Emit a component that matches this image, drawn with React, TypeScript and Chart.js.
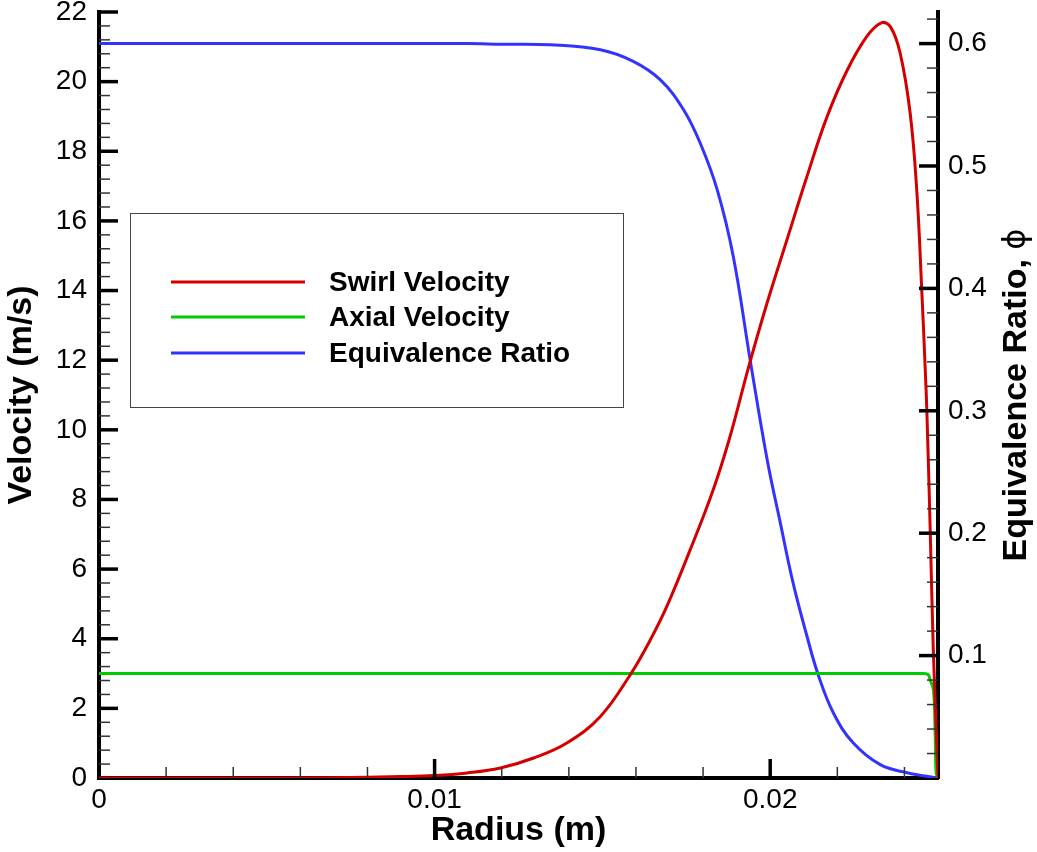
import React, { useEffect, useRef } from 'react';
import { Chart, registerables } from 'chart.js';

Chart.register(...registerables);

// ---- Data ----
const swirlR = [0, 0.004, 0.007, 0.009, 0.01, 0.01097, 0.01196, 0.01295, 0.01394, 0.01494, 0.01583, 0.01643, 0.01692, 0.01762, 0.01831, 0.01881, 0.01935, 0.0199, 0.0205, 0.02109, 0.02169, 0.02229, 0.02288, 0.02331, 0.02358, 0.02387, 0.02417, 0.02437, 0.02452, 0.02462, 0.02467, 0.02477, 0.02486, 0.025];
const swirlV = [0, 0, 0.01, 0.04, 0.07, 0.144, 0.287, 0.574, 1.005, 1.769, 2.967, 3.972, 4.928, 6.565, 8.3, 9.83, 11.78, 13.62, 15.46, 17.26, 18.98, 20.32, 21.3, 21.69, 21.58, 20.83, 19.1, 16.84, 13.93, 11.73, 10.48, 7.04, 3.68, 0];

const axialR = [0, 0.005, 0.01, 0.015, 0.02, 0.0245, 0.0247, 0.024766, 0.024864, 0.024915, 0.024945, 0.025];
const axialV = [3.0, 3.0, 3.0, 3.0, 3.0, 3.0, 2.97, 2.82, 2.53, 1.29, 0.14, 0];

const phiR = [0, 0.004, 0.008, 0.011, 0.012, 0.01345, 0.01494, 0.01592, 0.01672, 0.01741, 0.01791, 0.01842, 0.0189, 0.0194, 0.01991, 0.0203, 0.02068, 0.0211, 0.02143, 0.02188, 0.02247, 0.02328, 0.02408, 0.025];
const phiV = [0.6, 0.6, 0.6, 0.6, 0.5995, 0.599, 0.595, 0.5855, 0.5705, 0.5464, 0.519, 0.4807, 0.4261, 0.342, 0.26, 0.2086, 0.1596, 0.1154, 0.0844, 0.0533, 0.0288, 0.0109, 0.0043, 0];

const seriesLabels = ['Swirl Velocity', 'Axial Velocity', 'Equivalence Ratio'];
const seriesColors = ['rgb(210,0,0)', 'rgb(0,204,0)', 'rgb(51,51,255)'];

const xTickLabels: Record<string, string> = { '0': '0', '0.01': '0.01', '0.02': '0.02' };
const xMin = 0, xMax = 0.025, xStep = 0.01;
const yMin = 0, yMax = 22, yStep = 2;
const y1Min = 0, y1Max = 0.6258, y1Step = 0.1;
const xTitle = 'Radius (m)';
const yTitle = 'Velocity (m/s)';
const y1Title = 'Equivalence Ratio, ';
const y1Symbol = 'ϕ';

const FONT = '"Liberation Sans", Arial, Helvetica, sans-serif';

const zip = (xs: number[], ys: number[]) => xs.map((x, i) => ({ x, y: ys[i] }));

const decorPlugin = {
  id: 'decor',
  afterDraw(chart: any) {
    const ctx: CanvasRenderingContext2D = chart.ctx;
    const { left, right, top, bottom } = chart.chartArea;
    const sx = chart.scales.x, sy = chart.scales.y, sy1 = chart.scales.y1;
    const MAJ = 19, MIN = 11;
    ctx.save();
    const line = (x1: number, y1: number, x2: number, y2: number, w: number, c: string) => {
      ctx.beginPath();
      ctx.lineWidth = w;
      ctx.strokeStyle = c;
      ctx.moveTo(x1, y1);
      ctx.lineTo(x2, y2);
      ctx.stroke();
    };
    // x ticks (inward)
    for (let i = 1; i <= 12; i++) {
      const px = sx.getPixelForValue(i * 0.002);
      const major = i % 5 === 0;
      line(px, bottom, px, bottom - (major ? MAJ : MIN), major ? 3.5 : 1.5, major ? '#000' : '#333');
    }
    // left ticks
    for (let i = 1; i <= 55; i++) {
      const py = sy.getPixelForValue(i * 0.4);
      const major = i % 5 === 0;
      line(left, py, left + (major ? MAJ : MIN), py, major ? 3.5 : 1.5, major ? '#000' : '#333');
    }
    // right ticks
    for (let i = 1; i <= 31; i++) {
      const py = sy1.getPixelForValue(i * 0.02);
      const major = i % 5 === 0;
      line(right, py, right - (major ? MAJ : MIN), py, major ? 3.5 : 1.5, major ? '#000' : '#333');
    }

    // legend box
    const bx = 130, by = 213, bw = 493, bh = 194;
    ctx.lineWidth = 1;
    ctx.strokeStyle = '#444';
    ctx.strokeRect(bx + 0.5, by + 0.5, bw, bh);
    const rowsY = [282, 317, 353];
    chart.data.datasets.forEach((ds: any, i: number) => {
      line(171, rowsY[i], 305, rowsY[i], 3, ds.borderColor);
      ctx.fillStyle = '#000';
      ctx.font = `bold 28px ${FONT}`;
      ctx.textBaseline = 'middle';
      ctx.textAlign = 'left';
      ctx.fillText(ds.label, 329, rowsY[i] + 1);
    });

    // right axis title (reads bottom to top)
    ctx.save();
    const cx = 1016.5, cy = (top + bottom) / 2;
    ctx.translate(cx, cy);
    ctx.rotate(-Math.PI / 2);
    ctx.font = `bold 34px ${FONT}`;
    const w1 = ctx.measureText(y1Title).width;
    ctx.font = `32px "DejaVu Sans", ${FONT}`;
    const w2 = ctx.measureText(y1Symbol).width;
    const start = -(w1 + w2) / 2;
    ctx.fillStyle = '#000';
    ctx.textBaseline = 'middle';
    ctx.textAlign = 'left';
    ctx.font = `bold 34px ${FONT}`;
    ctx.fillText(y1Title, start, 0);
    ctx.font = `32px "DejaVu Sans", ${FONT}`;
    ctx.fillText(y1Symbol, start + w1, 0);
    ctx.restore();

    ctx.restore();
  },
};

const noPad = (s: any) => {
  s.paddingTop = 0;
  s.paddingBottom = 0;
  s.paddingLeft = 0;
  s.paddingRight = 0;
};

export default function App() {
  const ref = useRef<HTMLCanvasElement | null>(null);
  useEffect(() => {
    document.body.style.margin = '0';
    const canvas = ref.current!;
    const tickFont = { family: FONT, size: 28 };
    const titleFont = { family: FONT, size: 34, weight: 'bold' as const };
    const chart = new Chart(canvas, {
      type: 'line',
      data: {
        datasets: [
          { label: seriesLabels[0], data: zip(swirlR, swirlV), yAxisID: 'y', borderColor: seriesColors[0] },
          { label: seriesLabels[1], data: zip(axialR, axialV), yAxisID: 'y', borderColor: seriesColors[1] },
          { label: seriesLabels[2], data: zip(phiR, phiV), yAxisID: 'y1', borderColor: seriesColors[2] },
        ].map((d) => ({
          ...d,
          borderWidth: 3,
          pointRadius: 0,
          fill: false,
          tension: 0.4,
          backgroundColor: d.borderColor,
        })),
      },
      options: {
        animation: false,
        responsive: false,
        devicePixelRatio: 1,
        layout: { padding: { top: 12, left: 0, right: 0, bottom: 0 } },
        plugins: { legend: { display: false }, tooltip: { enabled: false } },
        scales: {
          x: {
            type: 'linear',
            position: 'bottom',
            min: xMin,
            max: xMax,
            grid: { display: false, drawTicks: false },
            border: { display: true, color: '#000', width: 4 },
            ticks: {
              stepSize: xStep,
              includeBounds: false,
              autoSkip: false,
              maxRotation: 0,
              padding: 5,
              color: '#000',
              font: tickFont,
              callback: (v: any) => xTickLabels[String(Math.round(Number(v) * 1000) / 1000)] ?? '',
            },
            title: { display: true, text: xTitle, color: '#000', font: titleFont, padding: { top: 0, bottom: 1 } },
            afterFit: (s: any) => { s.height = 74; noPad(s); },
          },
          y: {
            type: 'linear',
            position: 'left',
            min: yMin,
            max: yMax,
            grid: { display: false, drawTicks: false },
            border: { display: true, color: '#000', width: 4 },
            ticks: {
              stepSize: yStep,
              autoSkip: false,
              padding: 12,
              color: '#000',
              font: tickFont,
              callback: (v: any) => String(Math.round(Number(v))),
            },
            title: { display: true, text: yTitle, color: '#000', font: titleFont, padding: { top: 1, bottom: 0 } },
            afterFit: (s: any) => { s.width = 99; noPad(s); },
          },
          y1: {
            type: 'linear',
            position: 'right',
            min: y1Min,
            max: y1Max,
            grid: { display: false, drawTicks: false },
            border: { display: true, color: '#000', width: 4 },
            ticks: {
              stepSize: y1Step,
              includeBounds: false,
              autoSkip: false,
              padding: 10,
              color: '#000',
              font: tickFont,
              callback: (v: any) => (Number(v) < 0.05 ? '' : Number(v).toFixed(1)),
            },
            afterFit: (s: any) => { s.width = 99; noPad(s); },
          },
        },
      },
      plugins: [decorPlugin],
    });
    return () => chart.destroy();
  }, []);
  return <canvas ref={ref} width={1037} height={852} style={{ display: 'block' }} />;
}
